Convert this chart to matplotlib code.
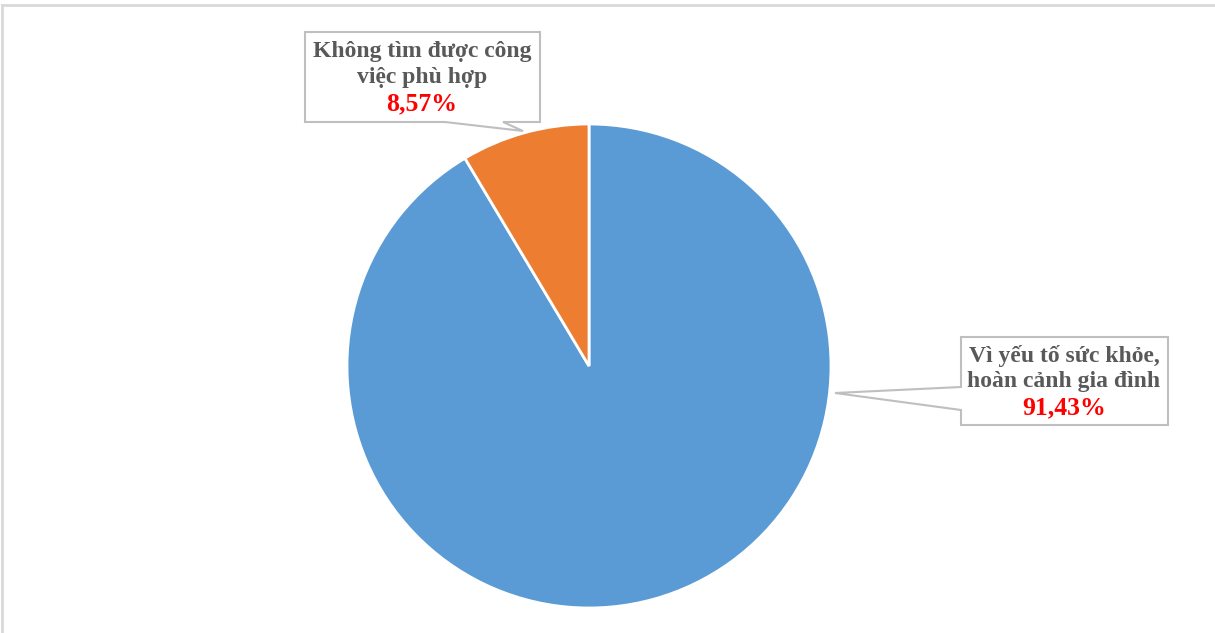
import matplotlib
matplotlib.use("Agg")
import matplotlib.pyplot as plt
from matplotlib.patches import Polygon
from matplotlib.lines import Line2D

# Data
categories = ["Vì yếu tố sức khỏe,\nhoàn cảnh gia đình", "Không tìm được công\nviệc phù hợp"]
shares = [91.43, 8.57]
colors = ["#5B9BD5", "#ED7D31"]

W, H = 1215, 633
fig = plt.figure(figsize=(W / 100, H / 100), dpi=100)
ax = fig.add_axes([0, 0, 1, 1])

def py(y):
    # convert top-down pixel row to axis y
    return H - y

# chart area border (top and left edges visible)
fig.add_artist(Line2D([2 / W, 1], [py(5) / H, py(5) / H], color="#D9D9D9", lw=2))
fig.add_artist(Line2D([2 / W, 2 / W], [0, py(5) / H], color="#D9D9D9", lw=2))

cx, cy, R = 589, py(366), 242
ax.pie(shares, colors=colors, startangle=90, counterclock=False,
       center=(cx, cy), radius=R,
       wedgeprops=dict(edgecolor="white", linewidth=2), frame=True)
ax.set_xlim(0, W)
ax.set_ylim(0, H)
ax.set_aspect("equal")
ax.axis("off")

serif = ["Liberation Serif", "DejaVu Serif"]
font = dict(family=serif, weight="bold", fontsize=17)
pct_font = dict(family=serif, weight="bold", fontsize=18.5)
grey = "#595959"

def callout(verts, cxm, lines_y, label, value):
    poly = Polygon([(x, py(y)) for x, y in verts], closed=True,
                   facecolor="white", edgecolor="#BFBFBF", lw=1.5, zorder=5)
    ax.add_patch(poly)
    l1, l2 = label.split("\n")
    ax.text(cxm, py(lines_y[0]), l1, color=grey, ha="center", va="center", zorder=6, **font)
    ax.text(cxm, py(lines_y[1]), l2, color=grey, ha="center", va="center", zorder=6, **font)
    pct = f"{value:.2f}%".replace(".", ",")
    ax.text(cxm, py(lines_y[2]), pct, color="#FF0000", ha="center", va="center", zorder=6, **pct_font)

# label for the smaller slice (wedge points down to the slice)
callout([(305, 32), (540, 32), (540, 122), (503, 122), (523, 131), (445, 122), (305, 122)],
        422, (52, 78, 104), categories[1], shares[1])

# label for the larger slice (wedge points left to the slice)
callout([(961, 337), (1168, 337), (1168, 425), (961, 425), (961, 410), (835, 393),
         (961, 387)],
        1064, (356, 382, 408), categories[0], shares[0])

fig.savefig("out.png", dpi=100)
